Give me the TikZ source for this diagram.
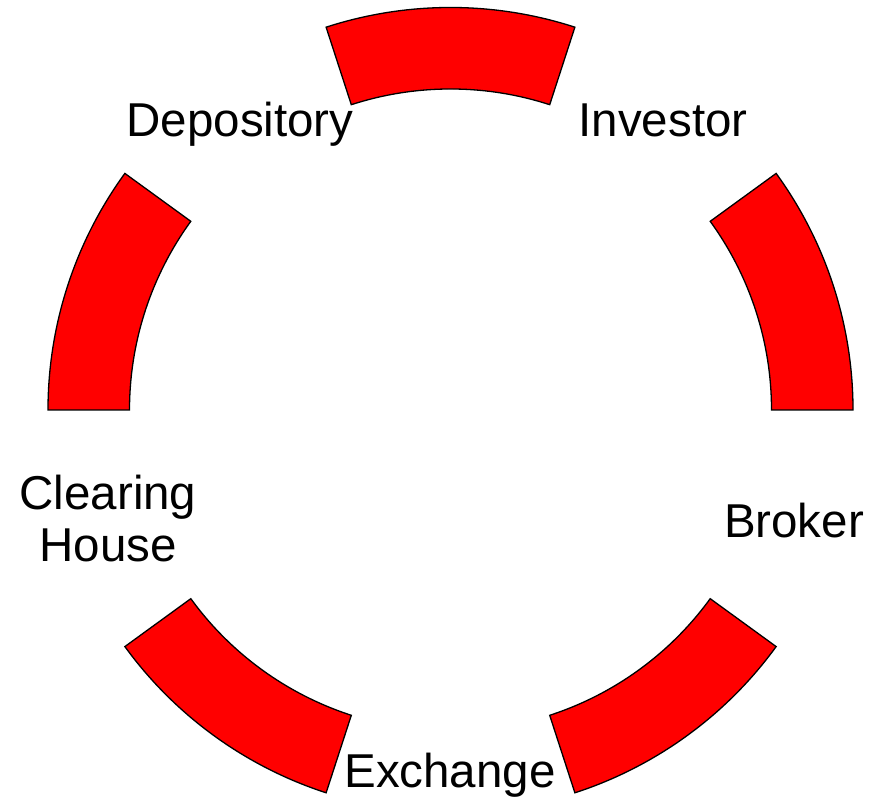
\documentclass[tikz,border=0pt]{standalone}
\usepackage{fontspec}
\setmainfont{Liberation Sans}
\begin{document}
\begin{tikzpicture}[x=1pt,y=1pt,
  seg/.style={draw=black,fill=red,line width=1.3pt,line join=miter},
  lbl/.style={font=\fontsize{47.5}{52}\selectfont,inner sep=0pt,anchor=base,align=center}]
\useasboundingbox (0,0) rectangle (872,802);
\coordinate (c) at (450.5,392);
\def\Ro{402.5}
\def\Ri{321}
\foreach \s/\n in {0/s1,72/s2,144/s3,216/s4,288/s5}{
  \draw[seg] ([shift={(\s:\Ro)}]c) arc[start angle=\s,end angle=\s+36,radius=\Ro]
    -- ([shift={(\s+36:\Ri)}]c) arc[start angle=\s+36,end angle=\s,radius=\Ri] -- cycle;
}
\node[lbl] (dep) at (240,665) {Depository};
\node[lbl] (inv) at (663,665) {Investor};
\node[lbl] (bro) at (794,264) {Broker};
\node[lbl] (clr) at (108,240) {Clearing\\House};
\node[lbl] (exc) at (450,14) {Exchange};
\end{tikzpicture}
\end{document}
